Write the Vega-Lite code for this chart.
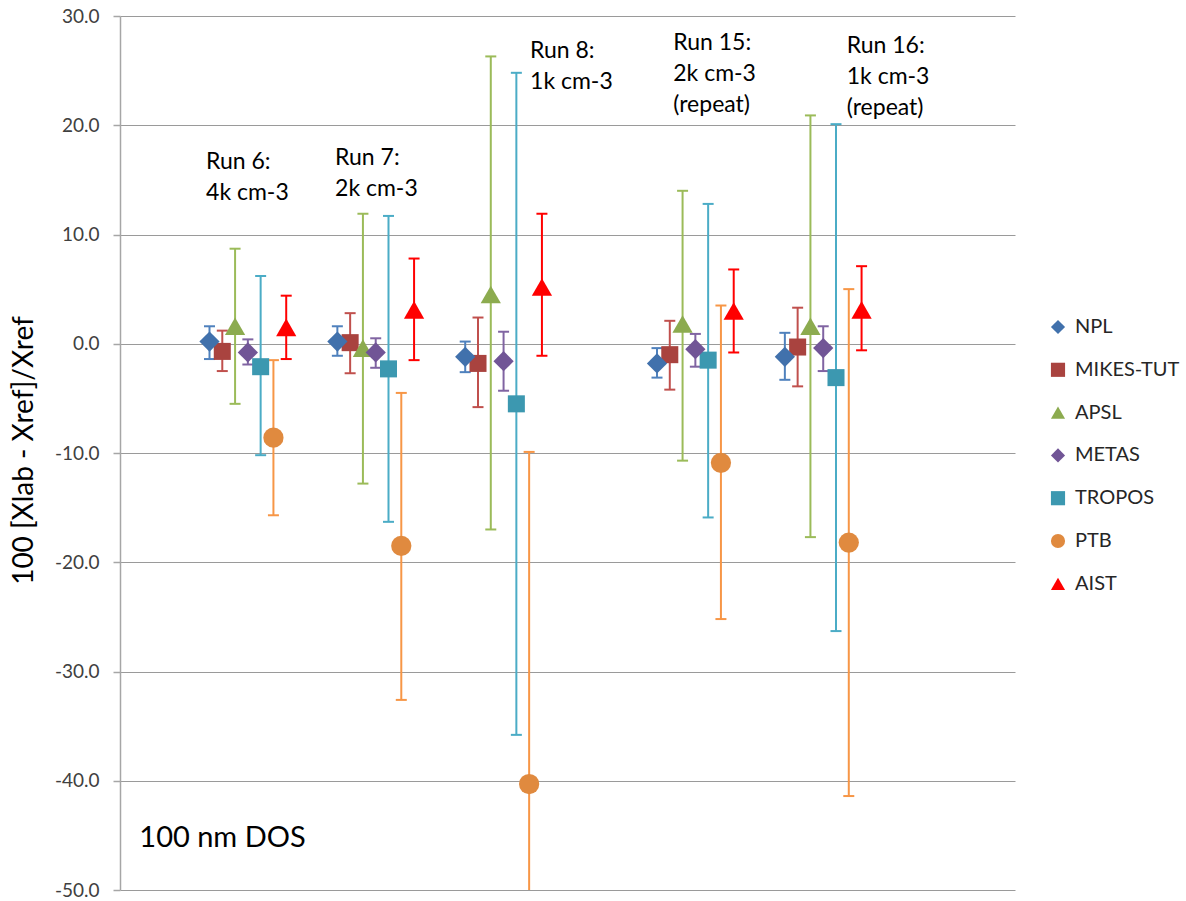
{
  "$schema": "https://vega.github.io/schema/vega-lite/v6.json",
  "width": 895,
  "height": 874,
  "autosize": {"type": "none"},
  "padding": {"left": 120, "top": 16, "right": 171, "bottom": 11},
  "background": "white",
  "config": {
    "font": "Lato",
    "view": {"stroke": null},
    "legend": {
      "orient": "none", "legendX": 928, "legendY": 301,
      "padding": 0, "rowPadding": 22.8, "labelOffset": 7,
      "labelFontSize": 20, "labelColor": "#262626", "labelFont": "Lato",
      "symbolSize": 200, "symbolStrokeWidth": 0, "symbolOpacity": 1
    }
  },
  "datasets": {
    "pts": [
      {"lab": "NPL", "run": "Run 6", "x": 0.7, "value": 0.2, "low": -1.4, "high": 1.6},
      {"lab": "NPL", "run": "Run 7", "x": 1.7, "value": 0.2, "low": -1.1, "high": 1.6},
      {"lab": "NPL", "run": "Run 8", "x": 2.7, "value": -1.2, "low": -2.6, "high": 0.2},
      {"lab": "NPL", "run": "Run 15", "x": 4.2, "value": -1.8, "low": -3.1, "high": -0.4},
      {"lab": "NPL", "run": "Run 16", "x": 5.2, "value": -1.2, "low": -3.3, "high": 1.0},
      {"lab": "MIKES-TUT", "run": "Run 6", "x": 0.8, "value": -0.7, "low": -2.5, "high": 1.2},
      {"lab": "MIKES-TUT", "run": "Run 7", "x": 1.8, "value": 0.1, "low": -2.7, "high": 2.8},
      {"lab": "MIKES-TUT", "run": "Run 8", "x": 2.8, "value": -1.8, "low": -5.8, "high": 2.4},
      {"lab": "MIKES-TUT", "run": "Run 15", "x": 4.3, "value": -1.0, "low": -4.2, "high": 2.1},
      {"lab": "MIKES-TUT", "run": "Run 16", "x": 5.3, "value": -0.3, "low": -3.9, "high": 3.3},
      {"lab": "APSL", "run": "Run 6", "x": 0.9, "value": 1.6, "low": -5.5, "high": 8.7},
      {"lab": "APSL", "run": "Run 7", "x": 1.9, "value": -0.4, "low": -12.8, "high": 11.9},
      {"lab": "APSL", "run": "Run 8", "x": 2.9, "value": 4.5, "low": -17.0, "high": 26.3},
      {"lab": "APSL", "run": "Run 15", "x": 4.4, "value": 1.8, "low": -10.7, "high": 14.0},
      {"lab": "APSL", "run": "Run 16", "x": 5.4, "value": 1.6, "low": -17.7, "high": 20.9},
      {"lab": "METAS", "run": "Run 6", "x": 1.0, "value": -0.8, "low": -1.9, "high": 0.4},
      {"lab": "METAS", "run": "Run 7", "x": 2.0, "value": -0.8, "low": -2.2, "high": 0.5},
      {"lab": "METAS", "run": "Run 8", "x": 3.0, "value": -1.6, "low": -4.3, "high": 1.1},
      {"lab": "METAS", "run": "Run 15", "x": 4.5, "value": -0.5, "low": -2.1, "high": 0.9},
      {"lab": "METAS", "run": "Run 16", "x": 5.5, "value": -0.4, "low": -2.5, "high": 1.6},
      {"lab": "TROPOS", "run": "Run 6", "x": 1.1, "value": -2.1, "low": -10.2, "high": 6.2},
      {"lab": "TROPOS", "run": "Run 7", "x": 2.1, "value": -2.3, "low": -16.3, "high": 11.7},
      {"lab": "TROPOS", "run": "Run 8", "x": 3.1, "value": -5.5, "low": -35.8, "high": 24.8},
      {"lab": "TROPOS", "run": "Run 15", "x": 4.6, "value": -1.5, "low": -15.9, "high": 12.8},
      {"lab": "TROPOS", "run": "Run 16", "x": 5.6, "value": -3.1, "low": -26.3, "high": 20.1},
      {"lab": "PTB", "run": "Run 6", "x": 1.2, "value": -8.6, "low": -15.7, "high": -1.5},
      {"lab": "PTB", "run": "Run 7", "x": 2.2, "value": -18.5, "low": -32.6, "high": -4.5},
      {"lab": "PTB", "run": "Run 8", "x": 3.2, "value": -40.3, "low": -70.7, "high": -9.9},
      {"lab": "PTB", "run": "Run 15", "x": 4.7, "value": -10.9, "low": -25.2, "high": 3.5},
      {"lab": "PTB", "run": "Run 16", "x": 5.7, "value": -18.2, "low": -41.4, "high": 5.0},
      {"lab": "AIST", "run": "Run 6", "x": 1.3, "value": 1.5, "low": -1.4, "high": 4.4},
      {"lab": "AIST", "run": "Run 7", "x": 2.3, "value": 3.1, "low": -1.5, "high": 7.8},
      {"lab": "AIST", "run": "Run 8", "x": 3.3, "value": 5.2, "low": -1.1, "high": 11.9},
      {"lab": "AIST", "run": "Run 15", "x": 4.8, "value": 3.0, "low": -0.8, "high": 6.8},
      {"lab": "AIST", "run": "Run 16", "x": 5.8, "value": 3.1, "low": -0.6, "high": 7.1}
    ],
    "runs": [
      {"x": 0.673, "y": 15.97, "label": "Run 6:\n4k cm-3"},
      {"x": 1.682, "y": 16.36, "label": "Run 7:\n2k cm-3"},
      {"x": 3.207, "y": 26.13, "label": "Run 8:\n1k cm-3"},
      {"x": 4.327, "y": 26.89, "label": "Run 15:\n2k cm-3\n(repeat)"},
      {"x": 5.684, "y": 26.59, "label": "Run 16:\n1k cm-3\n(repeat)"}
    ],
    "note": [
      {"x": 0.151, "y": -46.04, "label": "100 nm DOS"}
    ]
  },
  "layer": [
    {
      "data": {"name": "pts"},
      "mark": {"type": "rule", "strokeWidth": 2, "clip": true},
      "encoding": {
        "x": {"field": "x", "type": "quantitative", "scale": {"domain": [0, 7], "nice": false, "zero": false}, "axis": null},
        "y": {
          "field": "low", "type": "quantitative",
          "scale": {"domain": [-50, 30], "nice": false, "zero": false},
          "axis": {
            "values": [-50, -40, -30, -20, -10, 0, 10, 20, 30],
            "labelExpr": "replace(format(datum.value, '.1f'), '\u2212', '-')",
            "grid": true, "gridColor": "#9a9a9a", "gridWidth": 1,
            "domainColor": "#a6a6a6", "domainWidth": 1.5,
            "tickColor": "#a6a6a6", "tickSize": 7, "tickWidth": 1.5,
            "labelFontSize": 19, "labelColor": "#404040", "labelPadding": 14,
            "title": "100 [Xlab - Xref]/Xref",
            "titleFontSize": 28, "titleFontWeight": "normal", "titleColor": "#000000",
            "titleX": -88, "titleY": 434, "titleAngle": -90, "titleAlign": "center", "titleBaseline": "alphabetic"
          }
        },
        "y2": {"field": "high"},
        "stroke": {
          "field": "lab", "type": "nominal",
          "scale": {
            "domain": ["AIST", "PTB", "TROPOS", "METAS", "APSL", "MIKES-TUT", "NPL"],
            "range": ["#FF0000", "#F79646", "#4BACC6", "#8064A2", "#9BBB59", "#C0504D", "#4F81BD"]
          },
          "legend": null
        }
      }
    },
    {
      "data": {"name": "pts"},
      "mark": {"type": "rule", "strokeWidth": 2, "clip": true, "xOffset": -5.5, "x2Offset": 5.5},
      "encoding": {
        "x": {"field": "x", "type": "quantitative"},
        "x2": {"field": "x"},
        "y": {"field": "high", "type": "quantitative"},
        "stroke": {"field": "lab", "type": "nominal", "legend": null}
      }
    },
    {
      "data": {"name": "pts"},
      "mark": {"type": "rule", "strokeWidth": 2, "clip": true, "xOffset": -5.5, "x2Offset": 5.5},
      "encoding": {
        "x": {"field": "x", "type": "quantitative"},
        "x2": {"field": "x"},
        "y": {"field": "low", "type": "quantitative"},
        "stroke": {"field": "lab", "type": "nominal", "legend": null}
      }
    },
    {
      "data": {"name": "pts"},
      "transform": [{"filter": "datum.lab == 'MIKES-TUT' || datum.lab == 'TROPOS'"}],
      "mark": {"type": "point", "filled": true, "opacity": 1, "strokeWidth": 0, "size": 290},
      "encoding": {
        "x": {"field": "x", "type": "quantitative"},
        "y": {"field": "value", "type": "quantitative"},
        "fill": {
          "field": "lab", "type": "nominal",
          "scale": {
            "domain": ["NPL", "MIKES-TUT", "APSL", "METAS", "TROPOS", "PTB", "AIST"],
            "range": ["#4171AC", "#A9433F", "#8CAB4F", "#715596", "#3C98B0", "#E08A3F", "#FF0000"]
          },
          "legend": {"title": null}
        },
        "shape": {
          "field": "lab", "type": "nominal",
          "scale": {
            "domain": ["NPL", "MIKES-TUT", "APSL", "METAS", "TROPOS", "PTB", "AIST"],
            "range": ["diamond", "square", "triangle-up", "diamond", "square", "circle", "triangle-up"]
          },
          "legend": {"title": null}
        }
      }
    },
    {
      "data": {"name": "pts"},
      "transform": [{"filter": "datum.lab != 'MIKES-TUT' && datum.lab != 'TROPOS'"}],
      "mark": {"type": "point", "filled": true, "opacity": 1, "strokeWidth": 0, "size": 410},
      "encoding": {
        "x": {"field": "x", "type": "quantitative"},
        "y": {"field": "value", "type": "quantitative"},
        "fill": {"field": "lab", "type": "nominal", "legend": {"title": null}},
        "shape": {"field": "lab", "type": "nominal", "legend": {"title": null}}
      }
    },
    {
      "data": {"name": "runs"},
      "mark": {"type": "text", "align": "left", "baseline": "alphabetic", "lineBreak": "\n", "fontSize": 23, "lineHeight": 31, "color": "#000000", "font": "Lato"},
      "encoding": {
        "x": {"field": "x", "type": "quantitative"},
        "y": {"field": "y", "type": "quantitative"},
        "text": {"field": "label", "type": "nominal"}
      }
    },
    {
      "data": {"name": "note"},
      "mark": {"type": "text", "align": "left", "baseline": "alphabetic", "fontSize": 29, "color": "#000000", "font": "Lato"},
      "encoding": {
        "x": {"field": "x", "type": "quantitative"},
        "y": {"field": "y", "type": "quantitative"},
        "text": {"field": "label", "type": "nominal"}
      }
    }
  ]
}
